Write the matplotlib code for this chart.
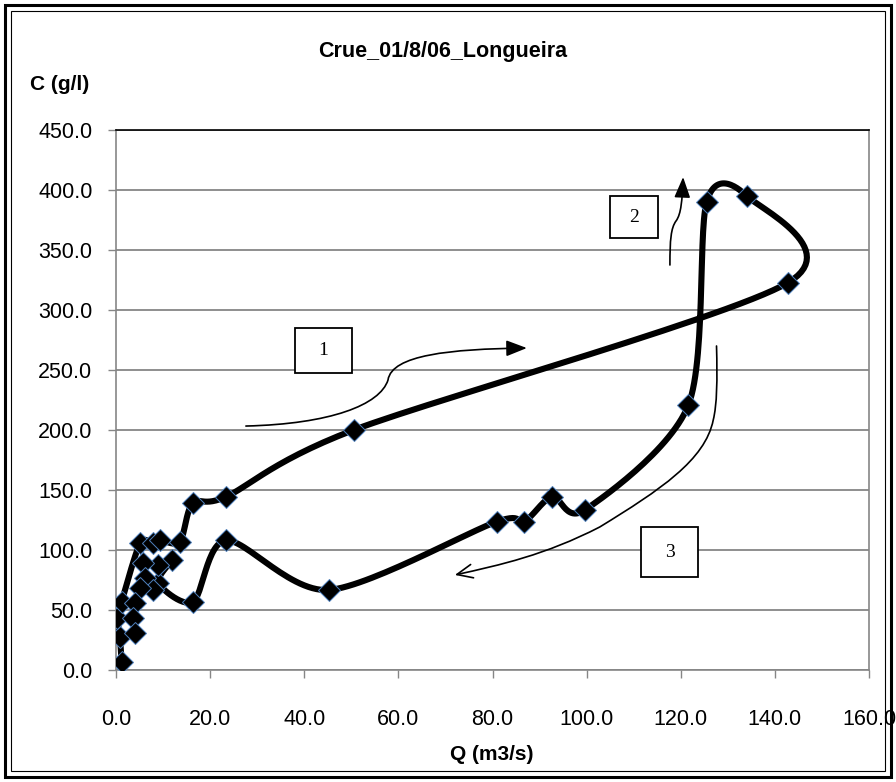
import numpy as np
import matplotlib
matplotlib.use("Agg")
import matplotlib.pyplot as plt
from matplotlib.path import Path
from matplotlib.patches import FancyArrowPatch, Rectangle

plt.rcParams['font.family'] = ['Liberation Sans', 'DejaVu Sans']

# Q (m3/s) and C (g/l), in time order along the flood event
q = [1.2, 0.85, 0.3, 1.2, 5.1, 7.9, 9.4, 13.6, 16.3, 23.4, 50.5, 142.8,
     134.0, 125.5, 121.6, 99.6, 92.7, 86.7, 80.9, 45.2, 23.4, 16.4,
     9.0, 11.9, 9.0, 5.8, 6.2, 7.9, 5.1, 4.0, 3.7, 4.0]
c = [6.9, 27.7, 43.0, 57.0, 105.5, 105.5, 108.0, 107.0, 139.0, 144.4, 200.0, 322.8,
     395.0, 390.0, 220.6, 133.3, 144.4, 123.6, 123.6, 66.7, 108.0, 57.0,
     72.5, 92.0, 87.5, 89.0, 77.0, 67.0, 68.0, 56.0, 43.0, 31.0]

x_ticks = [0, 20, 40, 60, 80, 100, 120, 140, 160]
y_ticks = [0, 50, 100, 150, 200, 250, 300, 350, 400, 450]

W, H = 896, 782
fig = plt.figure(figsize=(W / 100, H / 100), dpi=100)
ax = fig.add_axes([116 / W, 1 - 670 / H, (869 - 116) / W, (670 - 130) / H])
ax.set_xlim(0, 160)
ax.set_ylim(0, 450)


def smooth(xs, ys, n=30, k=7.0):
    # Excel-like smoothed line: Catmull-Rom bezier in screen space
    pts = ax.transData.transform(np.column_stack([xs, ys]))
    p = np.vstack([pts[0], pts, pts[-1]])
    out = []
    t = np.linspace(0, 1, n)[:, None]
    for i in range(1, len(p) - 2):
        p0, p1, p2, p3 = p[i - 1], p[i], p[i + 1], p[i + 2]
        c1 = p1 + (p2 - p0) / k
        c2 = p2 - (p3 - p1) / k
        seg = ((1 - t) ** 3 * p1 + 3 * (1 - t) ** 2 * t * c1
               + 3 * (1 - t) * t ** 2 * c2 + t ** 3 * p2)
        out.append(seg)
    curve = np.vstack(out)
    return ax.transData.inverted().transform(curve)


sm = smooth(q, c)
ax.plot(sm[:, 0], sm[:, 1], color='black', lw=4.4, solid_capstyle='round',
        solid_joinstyle='round', zorder=3)
ax.plot(q, c, 'D', color='black', ms=11.5, mec='#4f81bd', mew=0.7, zorder=4)

ax.set_xticks(x_ticks)
ax.set_xticklabels([f"{v:.1f}" for v in x_ticks])
ax.set_yticks(y_ticks)
ax.set_yticklabels([f"{v:.1f}" for v in y_ticks])
ax.tick_params(axis='both', direction='out', length=6, width=1, color='#868686',
               labelsize=15.5)
ax.tick_params(axis='y', pad=11)
ax.tick_params(axis='x', pad=22)
ax.yaxis.grid(True, color='#868686', lw=1.3)
ax.set_axisbelow(True)
for s in ['left', 'bottom', 'right']:
    ax.spines[s].set_color('#868686')
    ax.spines[s].set_linewidth(1.2)
ax.spines['top'].set_color('black')
ax.spines['top'].set_linewidth(1.2)

fig.text(0.494, 1 - 52 / H, "Crue_01/8/06_Longueira", ha='center', va='center',
         fontsize=15.5, fontweight='bold')
fig.text(30 / W, 1 - 84 / H, "C (g/l)", ha='left', va='center',
         fontsize=15, fontweight='bold')
fig.text(492 / W, 1 - 755 / H, "Q (m3/s)", ha='center', va='center',
         fontsize=15, fontweight='bold')

# numbered boxes
boxes = [("1", 44.05, 266.1, 12.1, 37.5),
         ("2", 110.1, 377.1, 10.3, 35.0),
         ("3", 117.6, 98.3, 12.1, 41.0)]
for label, bx, by, bw, bh in boxes:
    ax.add_patch(Rectangle((bx - bw / 2, by - bh / 2), bw, bh, facecolor='white',
                           edgecolor='black', lw=1.3, zorder=5))
    ax.text(bx, by, label, ha='center', va='center', fontsize=14,
            family=['Liberation Serif', 'DejaVu Serif'], zorder=6)

C3 = Path.CURVE4
arrow1 = Path([(27.6, 203.3), (45.5, 205.0), (56.1, 220.8), (57.8, 241.7),
               (58.6, 262.5), (71.0, 267.5), (87.3, 268.3)],
              [Path.MOVETO, C3, C3, C3, C3, C3, C3])
arrow2 = Path([(117.7, 337.5), (117.7, 358.3), (117.9, 368.3), (119.0, 374.2),
               (120.1, 380.0), (120.3, 391.7), (120.5, 410.8)],
              [Path.MOVETO, C3, C3, C3, C3, C3, C3])
arrow3 = Path([(127.6, 270.0), (127.8, 241.7), (127.7, 220.8), (126.9, 208.3),
               (125.2, 175.0), (115.6, 150.0), (102.8, 119.2),
               (91.2, 95.8), (81.6, 87.5), (72.0, 79.2)],
              [Path.MOVETO, C3, C3, C3, C3, C3, C3, C3, C3, C3])
for pth, style in [(arrow1, '-|>,head_length=0.9,head_width=0.35'),
                   (arrow2, '-|>,head_length=0.9,head_width=0.35'),
                   (arrow3, '->,head_length=0.8,head_width=0.35')]:
    ax.add_patch(FancyArrowPatch(path=pth, arrowstyle=style, mutation_scale=14,
                                 color='black', lw=1.2, transform=ax.transData,
                                 zorder=5))

# double frame round the whole picture
fig.add_artist(Rectangle((5 / W, 5 / H), 1 - 10 / W, 1 - 10 / H, fill=False,
                         edgecolor='black', lw=2.2, transform=fig.transFigure))
fig.add_artist(Rectangle((11 / W, 11 / H), 1 - 22 / W, 1 - 22 / H, fill=False,
                         edgecolor='black', lw=0.8, transform=fig.transFigure))

fig.savefig("out.png", dpi=100)
